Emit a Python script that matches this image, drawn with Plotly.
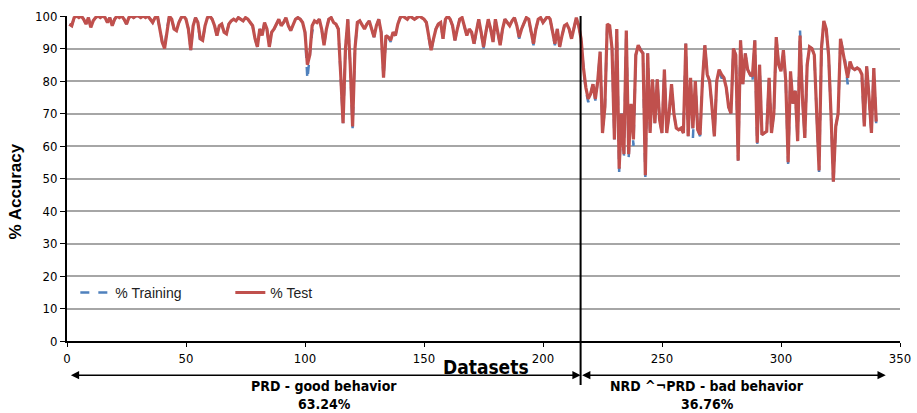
import plotly.graph_objects as go

# Dataset index (1..340): first 215 belong to PRD, the remaining 125 to NRD ^¬PRD
datasets = list(range(1, 341))

# % accuracy on the test set, per dataset
test_acc = [
    # 1-50
    97.5, 97, 99.5, 100, 99.5, 100, 99, 97.5, 99.5, 96.5,
    98.5, 99.5, 100, 99.5, 100, 99.5, 98, 99.5, 97, 99,
    100, 99.5, 100, 99, 97.5, 99.5, 100, 99.5, 100, 100,
    99.5, 100, 99.5, 100, 99, 98, 99.5, 100, 96, 92,
    90, 96, 100, 99, 96, 95.5, 98, 99.5, 100, 99,
    # 51-100
    96, 89.5, 97, 99.5, 98, 93, 92.5, 97, 99.5, 100,
    99, 97, 94, 97, 97.5, 95, 94.5, 97.5, 98.5, 99,
    98.5, 99.5, 99, 98.5, 99.5, 99, 98, 97, 93, 90.5,
    96, 94, 98, 96, 90.5, 95, 96, 97.5, 99, 97,
    98, 99.5, 97, 95.5, 97, 99, 99.5, 99, 98, 95,
    # 101-150
    85, 88, 97, 98.5, 98, 99, 96, 91, 96, 99,
    99.5, 98, 97.5, 96, 82, 67, 90, 99, 85, 66,
    90, 98, 98.5, 97, 96, 97.5, 98.5, 96, 93.5, 97,
    99, 95, 81, 94, 93.5, 92.5, 95, 94, 97.5, 99.5,
    100, 99.5, 99, 100, 99.5, 99, 99.5, 100, 99.5, 99,
    # 151-200
    98, 93, 89.5, 93, 96, 97.5, 98, 93, 99, 100,
    99, 97, 92.5, 96, 99, 99.5, 97, 94, 96, 95,
    91.5, 95, 99, 95, 90.5, 95, 99, 96, 92, 99,
    95, 91, 96, 99, 98, 97, 98.5, 99.5, 97, 93.5,
    96, 98, 99.5, 99, 95, 91.5, 96, 99, 99.5, 98,
    # 201-250
    99, 100, 99, 95, 91.5, 96, 90.5, 94, 97, 97.5,
    96, 93, 96, 99.5, 97, 93, 84, 78, 74.5, 76,
    79, 74.5, 80, 89, 64, 72, 97.5, 97, 90, 62,
    96, 53, 70, 57.5, 95.5, 57.5, 73, 62, 88, 91,
    89.5, 88.5, 51, 88.5, 64, 80.5, 67, 80.5, 68, 64,
    # 251-300
    83.5, 64, 70, 79, 70, 65.5, 65, 65.5, 64, 91.5,
    63, 81, 65.5, 80, 65, 63.5, 80, 91, 82, 80,
    72, 63, 80, 83.5, 82, 81, 78, 72, 70, 90,
    88, 55.5, 92.5, 79, 88.5, 83.5, 82, 81.5, 92.5, 61,
    85, 63.5, 64, 64.5, 81, 64, 70, 93.5, 85, 83,
    # 301-340
    89.5, 80, 55, 83, 73, 77, 61.5, 94, 75, 62.5,
    85, 90.5, 90, 88, 70, 52.5, 90, 98.5, 96, 88,
    70, 49, 66, 70, 93, 89, 86, 81, 86, 84,
    83.5, 84, 83.5, 82, 66, 84.5, 75, 64, 84, 67.5,
]

# % accuracy on the training set; equal to the test accuracy except for these datasets
training_diff = {
    56: 92, 101: 80.5, 103: 95, 120: 65.5, 136: 92, 153: 89, 171: 91,
    175: 90, 190: 93, 196: 91, 205: 91, 218: 77, 219: 73.5, 222: 74,
    232: 52, 234: 56.5, 236: 56.5, 238: 60, 243: 50.5, 263: 62.5,
    266: 63, 270: 80, 274: 82.5, 275: 81, 288: 79.5, 290: 60.5,
    303: 54.5, 308: 95.5, 316: 52, 322: 48, 328: 79, 334: 81, 340: 67,
}
train_acc = [training_diff.get(d, v) for d, v in zip(datasets, test_acc)]

x_ticks = [0, 50, 100, 150, 200, 250, 300, 350]
y_ticks = list(range(0, 101, 10))

boundary = 215.8          # split between the two groups
# label, share, arrow start, arrow end, label centre
groups = [
    ("PRD - good behavior", "63.24%", 1, boundary, 108),
    ("NRD ^¬PRD - bad behavior", "36.76%", boundary, 344, 269),
]

NARROW = "Liberation Sans Narrow, DejaVu Sans Condensed, Arial Narrow, Liberation Sans, sans-serif"
REGULAR = "Liberation Sans, Arial, sans-serif"

fig = go.Figure()
fig.add_trace(go.Scatter(
    x=datasets, y=train_acc, mode="lines", name="% Training",
    line=dict(color="#4F81BD", width=2.5, dash="dash"),
))
fig.add_trace(go.Scatter(
    x=datasets, y=test_acc, mode="lines", name="% Test",
    line=dict(color="#C0504D", width=3.2),
))

# vertical separator, running below the axis into the group labels
fig.add_shape(type="line", xref="x", yref="paper",
              x0=boundary, x1=boundary, y0=1.0, y1=-0.135,
              line=dict(color="black", width=2))

annotations = []
for label, share, x0, x1, xc in groups:
    # double-headed arrow spanning the group
    annotations.append(dict(
        x=x1, y=-0.105, xref="x", yref="paper",
        ax=x0, ay=0, axref="x", ayref="pixel",
        showarrow=True, arrowside="end+start", arrowhead=2, startarrowhead=2,
        arrowsize=1.1, startarrowsize=1.1, arrowwidth=1.5, arrowcolor="black",
        text="",
    ))
    annotations.append(dict(
        x=xc, y=-0.1385, xref="x", yref="paper", yanchor="middle",
        text=f"<b>{label}</b>", showarrow=False,
        font=dict(family=NARROW, size=14, color="black"),
    ))
    annotations.append(dict(
        x=xc, y=-0.194, xref="x", yref="paper", yanchor="middle",
        text=f"<b>{share}</b>", showarrow=False,
        font=dict(family=NARROW, size=14, color="black"),
    ))

annotations.append(dict(
    x=0.503, y=-0.08, xref="paper", yref="paper", yanchor="middle",
    text="<b>Datasets</b>", showarrow=False,
    font=dict(family=NARROW, size=19, color="black"),
))
annotations.append(dict(
    x=-0.0624, y=0.46, xref="paper", yref="paper", textangle=-90,
    xanchor="center", yanchor="middle",
    text="<b>% Accuracy</b>", showarrow=False,
    font=dict(family=REGULAR, size=17, color="black"),
))

fig.update_layout(
    width=917, height=413,
    margin=dict(l=67, r=17, t=16, b=72),
    plot_bgcolor="white", paper_bgcolor="white",
    showlegend=True,
    legend=dict(
        orientation="h", x=0.01, y=0.148, xanchor="left", yanchor="middle",
        bgcolor="rgba(0,0,0,0)", entrywidth=110, entrywidthmode="pixels",
        font=dict(family=REGULAR, size=14, color="#222"),
        traceorder="normal",
    ),
    annotations=annotations,
    xaxis=dict(
        range=[0, 350], tickvals=x_ticks, showgrid=False, zeroline=False,
        showline=True, linecolor="black", linewidth=2, automargin=False,
        ticks="outside", ticklen=4, tickcolor="black",
        tickfont=dict(family=NARROW, size=13, color="black"),
    ),
    yaxis=dict(
        range=[0, 100], tickvals=y_ticks, showgrid=True,
        gridcolor="#A6A6A6", gridwidth=1.5, zeroline=False,
        showline=True, linecolor="black", linewidth=2, automargin=False,
        ticks="outside", ticklen=5, tickcolor="black",
        tickfont=dict(family=NARROW, size=13, color="black"),
    ),
)

fig.write_html("out.html")
